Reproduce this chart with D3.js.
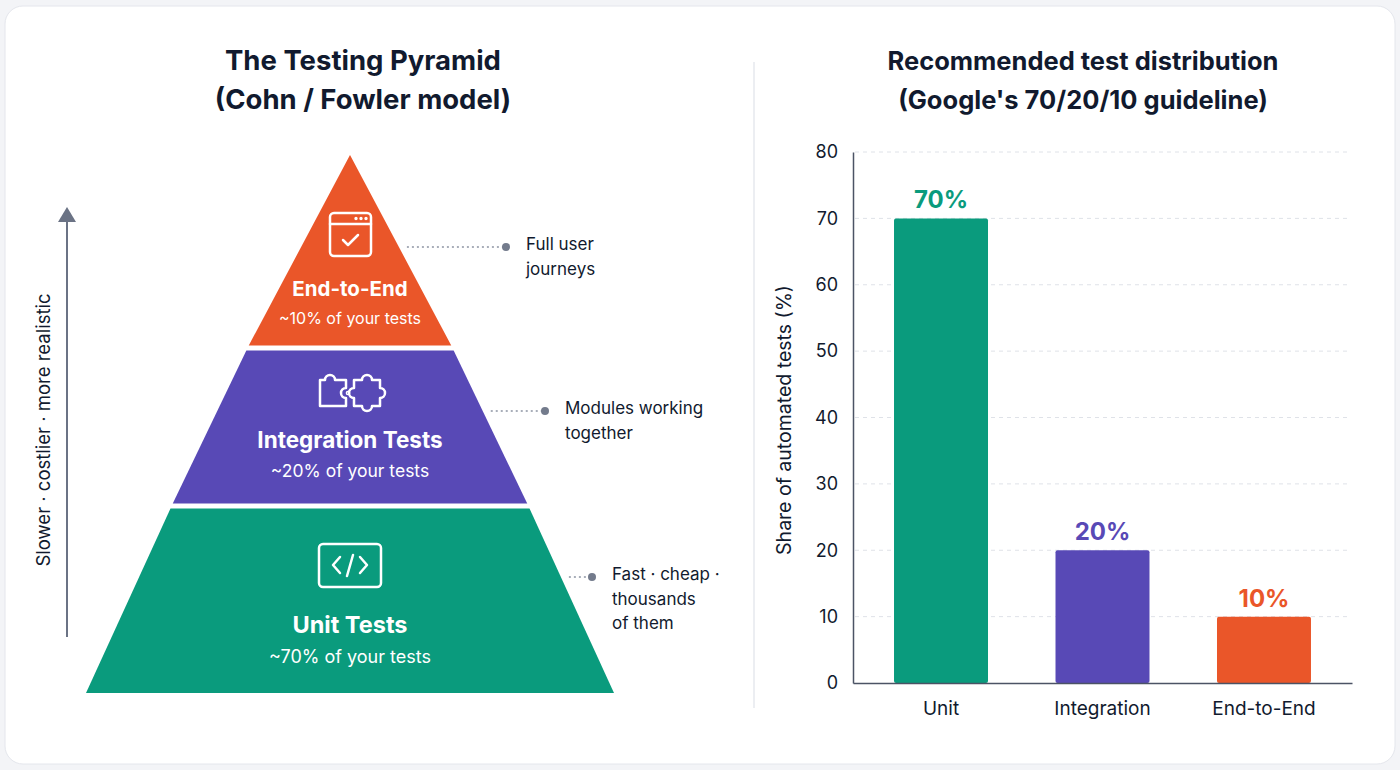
<!DOCTYPE html>
<html>
<head>
<meta charset="utf-8">
<title>Testing Pyramid</title>
<script src="https://d3js.org/d3.v7.min.js"></script>
<style>
  body { margin: 0; background: #f3f4f7; }
  svg text { font-family: Inter, "Noto Sans", sans-serif; }
</style>
</head>
<body>
<svg width="1400" height="770"></svg>
<script>
// ---- data ----
const tiers = ["Unit", "Integration", "End-to-End"]
const shares = [70, 20, 10]
const tierTitles = ["Unit Tests", "Integration Tests", "End-to-End"]
const tierSubtitles = ["~70% of your tests", "~20% of your tests", "~10% of your tests"]
const tierColors = ["#0a9b7d", "#5849b6", "#ea5629"]
const tierNotes = [["Fast · cheap ·", "thousands", "of them"], ["Modules working", "together"], ["Full user", "journeys"]]
const yTicks = [0, 10, 20, 30, 40, 50, 60, 70, 80]
const leftTitle = ["The Testing Pyramid", "(Cohn / Fowler model)"]
const rightTitle = ["Recommended test distribution", "(Google's 70/20/10 guideline)"]
const sideArrowLabel = "Slower · costlier · more realistic"
const yLabel = "Share of automated tests (%)"

const svg = d3.select("svg")
const dark = "#111a2e"

// card + divider
svg.append("rect").attr("x", 5).attr("y", 6).attr("width", 1390).attr("height", 758)
  .attr("rx", 18).attr("fill", "#fff").attr("stroke", "#e4e6ec")
svg.append("line").attr("x1", 754).attr("x2", 754).attr("y1", 62).attr("y2", 708)
  .attr("stroke", "#e6e8ee").attr("stroke-width", 1.5)

// titles
const titles = [[leftTitle, 363, 27.5], [rightTitle, 1083, 25.5]]
titles.forEach(([lines, cx, fs]) => {
  svg.append("g").selectAll("text").data(lines).join("text")
    .attr("x", cx).attr("y", (d, i) => 70 + i * 39)
    .attr("text-anchor", "middle").attr("font-size", fs).attr("font-weight", 700)
    .attr("fill", dark).text(d => d)
})

// ---- pyramid ----
const cx = 350
const level = d3.scaleLinear().domain([0, 1, 2, 3]).range([693, 506, 348, 155])
const halfW = d3.scaleLinear().domain([155, 345, 503, 693]).range([0, 101, 177, 264])
const gap = 2.5

const pyr = svg.append("g")
tiers.forEach((t, i) => {
  const yb = level(i) - (i > 0 ? gap : 0)
  const yt = level(i + 1) + (i < 2 ? gap : 0)
  const pts = [[cx - halfW(yb), yb], [cx + halfW(yb), yb], [cx + halfW(yt), yt], [cx - halfW(yt), yt]]
  pyr.append("path").attr("d", d3.line()(pts) + "Z").attr("fill", tierColors[i])
})

// tier text
const titleY = [625, 440, 289], subY = [657, 471, 318]
const titleSize = [23.5, 22.5, 20.5], subSize = [18, 17.5, 16]
tiers.forEach((t, i) => {
  pyr.append("text").attr("x", cx).attr("y", titleY[i] + titleSize[i] * 0.36)
    .attr("text-anchor", "middle").attr("font-size", titleSize[i]).attr("font-weight", 700)
    .attr("fill", "#fff").text(tierTitles[i])
  pyr.append("text").attr("x", cx).attr("y", subY[i] + subSize[i] * 0.36)
    .attr("text-anchor", "middle").attr("font-size", subSize[i])
    .attr("fill", "#fff").text(tierSubtitles[i])
})

// icons
const ic = pyr.append("g").attr("fill", "none").attr("stroke", "#fff")
  .attr("stroke-width", 2.5).attr("stroke-linecap", "round").attr("stroke-linejoin", "round")
// browser window
ic.append("rect").attr("x", 330).attr("y", 213).attr("width", 41).attr("height", 43).attr("rx", 4)
ic.append("line").attr("x1", 330).attr("x2", 371).attr("y1", 224).attr("y2", 224)
;[356, 361, 366].forEach(x => ic.append("circle").attr("cx", x).attr("cy", 218.5).attr("r", 0.8).attr("stroke-width", 1.8))
ic.append("path").attr("d", "M343,240 L348,245 L358,235")
// puzzle
ic.append("path").attr("d", "M320,380 h5 a5,5 0 0 1 10,0 h11 v8 a5,5 0 0 0 0,10 v8 h-26 z")
ic.append("path").attr("d", "M354,380 h8 a5,5 0 0 1 10,0 h8 v8 a5,5 0 0 1 0,10 v8 h-8 a5,5 0 0 1 -10,0 h-8 v-8 a5,5 0 0 1 0,-10 z")
ic.append("circle").attr("cx", 348).attr("cy", 393).attr("r", 1.6).attr("stroke-width", 1.5)
// code
ic.append("rect").attr("x", 319).attr("y", 544).attr("width", 62).attr("height", 43).attr("rx", 4)
ic.append("path").attr("d", "M340,557 L333,565 L340,573")
ic.append("path").attr("d", "M360,557 L367,565 L360,573")
ic.append("path").attr("d", "M353,555 L347,576")

// notes
const noteY = [577, 411, 247], noteX = [612, 565, 526]
tiers.forEach((t, i) => {
  const y = noteY[i]
  const x0 = cx + halfW(y) + 8
  const dotX = noteX[i] - 20
  svg.append("line").attr("x1", x0).attr("x2", dotX).attr("y1", y).attr("y2", y)
    .attr("stroke", "#8d94a3").attr("stroke-width", 1.5).attr("stroke-dasharray", "2,3")
  svg.append("circle").attr("cx", dotX).attr("cy", y).attr("r", 4).attr("fill", "#737b8c")
  svg.append("g").selectAll("text").data(tierNotes[i]).join("text")
    .attr("x", noteX[i]).attr("y", (d, j) => y + 3 + j * 24.5)
    .attr("font-size", 17).attr("fill", dark).text(d => d)
})

// side arrow
svg.append("line").attr("x1", 67).attr("x2", 67).attr("y1", 637).attr("y2", 218)
  .attr("stroke", "#6b7385").attr("stroke-width", 2)
svg.append("path").attr("d", "M67,207 L76,222 L58,222 Z").attr("fill", "#6b7385")
svg.append("text").attr("transform", "translate(50,430) rotate(-90)")
  .attr("text-anchor", "middle").attr("font-size", 18.5).attr("fill", dark).text(sideArrowLabel)

// ---- bar chart ----
const x = d3.scaleBand().domain(tiers).range([853, 1352]).paddingInner(0.418).paddingOuter(0.254)
const y = d3.scaleLinear().domain([0, 80]).range([683, 152])

const chart = svg.append("g")
chart.append("g").selectAll("line").data(yTicks.filter(d => d > 0)).join("line")
  .attr("x1", 855).attr("x2", 1350).attr("y1", d => y(d)).attr("y2", d => y(d))
  .attr("stroke", "#dfe2e8").attr("stroke-dasharray", "4,4")

const yAxis = chart.append("g").attr("transform", "translate(853,0)")
  .call(d3.axisLeft(y).tickValues(yTicks).tickSize(0).tickPadding(15))
yAxis.select(".domain").attr("stroke", "#4b5365").attr("stroke-width", 1.5)
yAxis.selectAll("text").attr("font-size", 18).attr("fill", dark).attr("font-family", "Inter")

chart.append("g").selectAll("rect").data(tiers).join("rect")
  .attr("x", d => x(d)).attr("width", x.bandwidth())
  .attr("y", (d, i) => y(shares[i])).attr("height", (d, i) => y(0) - y(shares[i]))
  .attr("rx", 2).attr("fill", (d, i) => tierColors[i])

const xAxis = chart.append("g").attr("transform", "translate(0,683)")
  .call(d3.axisBottom(x).tickSize(0).tickPadding(19))
xAxis.select(".domain").attr("stroke", "#4b5365").attr("stroke-width", 1.5)
xAxis.selectAll("text").attr("font-size", 19).attr("fill", dark).attr("font-family", "Inter")

chart.append("g").selectAll("text").data(tiers).join("text")
  .attr("x", d => x(d) + x.bandwidth() / 2).attr("y", (d, i) => y(shares[i]) - 10)
  .attr("text-anchor", "middle").attr("font-size", 24).attr("font-weight", 700)
  .attr("fill", (d, i) => tierColors[i]).text((d, i) => shares[i] + "%")

svg.append("text").attr("transform", "translate(791,420) rotate(-90)")
  .attr("text-anchor", "middle").attr("font-size", 19.5).attr("fill", dark).text(yLabel)
</script>
</body>
</html>
